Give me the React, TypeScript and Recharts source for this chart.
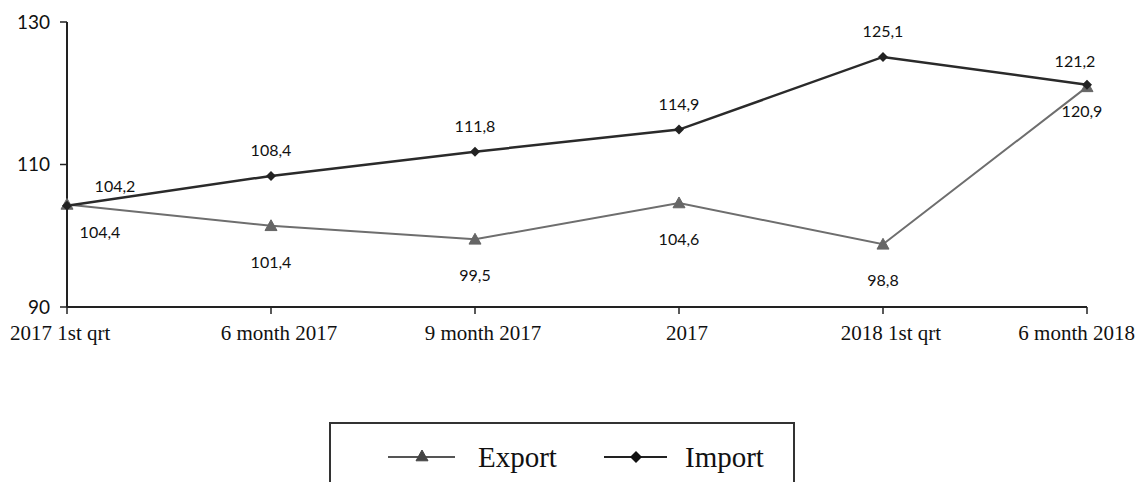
import { LineChart, Line, XAxis, YAxis, Legend, LabelList } from "recharts";

const periods = [
  "2017 1st qrt",
  "6 month 2017",
  "9 month 2017",
  "2017",
  "2018 1st qrt",
  "6 month 2018",
];
const exportValues = [104.4, 101.4, 99.5, 104.6, 98.8, 120.9];
const importValues = [104.2, 108.4, 111.8, 114.9, 125.1, 121.2];
const yTicks = [90, 110, 130];

const data = periods.map((p, i) => ({
  period: p,
  export: exportValues[i],
  import: importValues[i],
}));

const LABEL_FONT = "Lato, 'Open Sans', sans-serif";
const SERIF = "'Liberation Serif', 'DejaVu Serif', serif";

const fmt = (v: number) => v.toFixed(1).replace(".", ",");

function Triangle({ cx, cy, fill, size = 6 }: any) {
  if (cx == null || cy == null) return null;
  return (
    <polygon
      points={`${cx},${cy - size} ${cx - size},${cy + size * 0.8} ${cx + size},${cy + size * 0.8}`}
      fill={fill}
      stroke={fill}
      strokeWidth={1}
    />
  );
}

function Diamond({ cx, cy, fill, size = 5 }: any) {
  if (cx == null || cy == null) return null;
  return (
    <polygon
      points={`${cx},${cy - size} ${cx + size},${cy} ${cx},${cy + size} ${cx - size},${cy}`}
      fill={fill}
    />
  );
}

function ImportLabel(props: any) {
  const { x, y, value, index } = props;
  let dx = 0;
  let dy = -20;
  if (index === 0) {
    dx = 48;
    dy = -14;
  } else if (index === periods.length - 1) {
    dx = -12;
    dy = -18;
  }
  return (
    <text x={x + dx} y={y + dy} textAnchor="middle" fontFamily={LABEL_FONT} fontSize={16} fill="#111">
      {fmt(value)}
    </text>
  );
}

function ExportLabel(props: any) {
  const { x, y, value, index } = props;
  let dx = 0;
  let dy = 42;
  if (index === 0) {
    dx = 33;
    dy = 34;
  } else if (index === periods.length - 1) {
    dx = -5;
    dy = 30;
  }
  return (
    <text x={x + dx} y={y + dy} textAnchor="middle" fontFamily={LABEL_FONT} fontSize={16} fill="#111">
      {fmt(value)}
    </text>
  );
}

function XTick({ x, y, payload, index }: any) {
  let anchor: "start" | "middle" | "end" = "middle";
  let tx = x;
  if (index === 0) {
    anchor = "start";
    tx = 10;
  } else if (index === periods.length - 1) {
    anchor = "end";
    tx = 1135;
  } else {
    tx = x + 8;
  }
  return (
    <text x={tx} y={y + 24} textAnchor={anchor} fontFamily={SERIF} fontSize={21} fill="#111">
      {payload.value}
    </text>
  );
}

function LegendBox() {
  return (
    <div
      style={{
        width: 466,
        height: 70,
        border: "2px solid #333",
        boxSizing: "border-box",
        fontFamily: SERIF,
        fontSize: 29,
        color: "#111",
        position: "relative",
      }}
    >
      <svg width={466} height={70} style={{ position: "absolute", left: 0, top: 0 }}>
        <line x1={57} x2={124} y1={33} y2={33} stroke="#555" strokeWidth={2} />
        <Triangle cx={91} cy={32} fill="#444" size={6} />
        <line x1={273} x2={336} y1={33} y2={33} stroke="#222" strokeWidth={2} />
        <Diamond cx={305} cy={33} fill="#111" size={6} />
        <text x={147} y={43} fontFamily={SERIF} fontSize={29} fill="#111">Export</text>
        <text x={354} y={43} fontFamily={SERIF} fontSize={29} fill="#111">Import</text>
      </svg>
    </div>
  );
}

export default function App() {
  return (
    <div style={{ position: "absolute", left: 0, top: 0, width: 1140, height: 482, background: "#fff", overflow: "hidden" }}>
      <LineChart
        width={1140}
        height={482}
        data={data}
        margin={{ top: 22, right: 53, left: 17, bottom: 0 }}
      >
        <XAxis
          dataKey="period"
          height={115}
          tick={<XTick />}
          tickSize={7}
          axisLine={{ stroke: "#222", strokeWidth: 2 }}
          tickLine={{ stroke: "#222", strokeWidth: 1.5 }}
          interval={0}
        />
        <YAxis
          width={50}
          domain={[90, 130]}
          ticks={yTicks}
          tickSize={7}
          tickMargin={10}
          axisLine={{ stroke: "#222", strokeWidth: 2 }}
          tickLine={{ stroke: "#222", strokeWidth: 1.5 }}
          tick={{ fontFamily: LABEL_FONT, fontSize: 19, fill: "#111" }}
        />
        <Legend
          verticalAlign="bottom"
          height={60}
          content={() => <LegendBox />}
          wrapperStyle={{ left: 329, width: 466, height: 60 }}
        />
        <Line
          dataKey="export"
          name="Export"
          stroke="#6e6e6e"
          strokeWidth={2}
          dot={(p: any) => <Triangle key={`e${p.index}`} cx={p.cx} cy={p.cy} fill="#666" size={6} />}
          isAnimationActive={false}
        >
          <LabelList dataKey="export" content={<ExportLabel />} />
        </Line>
        <Line
          dataKey="import"
          name="Import"
          stroke="#2a2a2a"
          strokeWidth={2.5}
          dot={(p: any) => <Diamond key={`i${p.index}`} cx={p.cx} cy={p.cy} fill="#222" size={5} />}
          isAnimationActive={false}
        >
          <LabelList dataKey="import" content={<ImportLabel />} />
        </Line>
      </LineChart>
    </div>
  );
}
